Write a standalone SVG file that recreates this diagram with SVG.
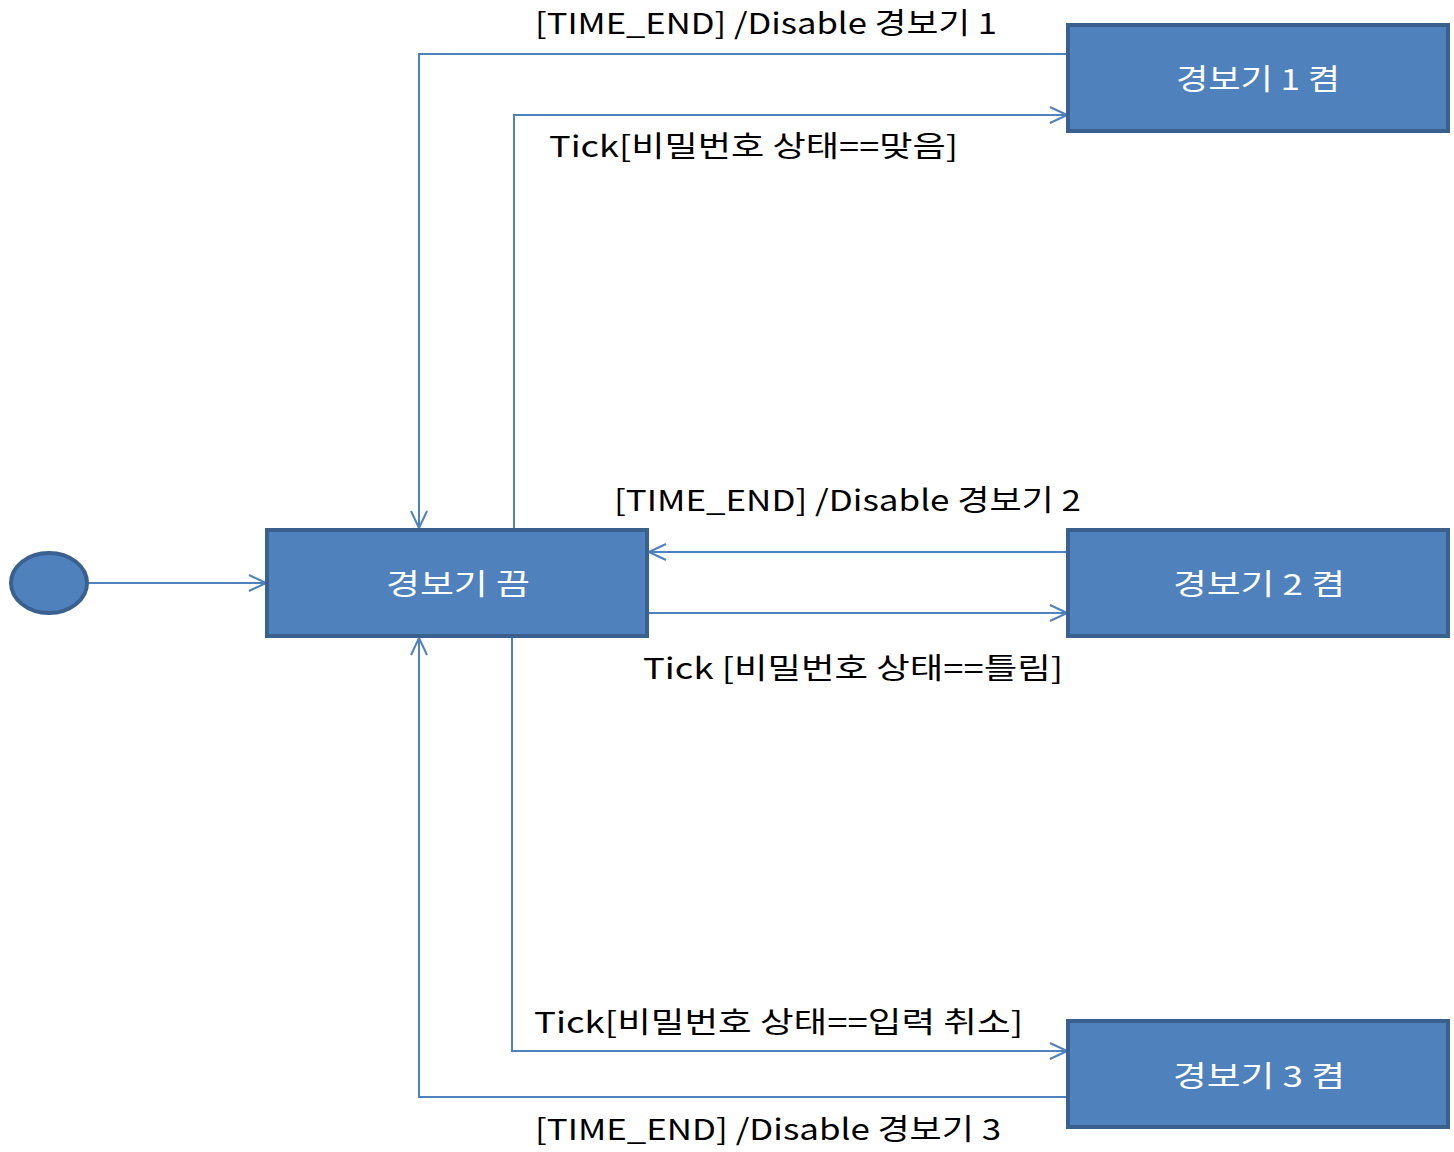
<svg xmlns="http://www.w3.org/2000/svg" width="1454" height="1152" viewBox="0 0 1454 1152">
<style>
.node{fill:#4F81BD;stroke:#3A6090;stroke-width:4}
.nl{fill:#FFFFFF;font-family:"Noto Sans CJK KR","Liberation Sans",sans-serif;font-size:29px;text-anchor:middle}
.el{fill:#000000;font-family:"Noto Sans CJK KR","Liberation Sans",sans-serif;font-size:29px}
.c{fill:none;stroke:#4F81BD;stroke-width:2;marker-end:url(#arr)}
</style>
<defs>
<marker id="arr" viewBox="0 0 20 20" refX="19" refY="10" markerWidth="20" markerHeight="20" markerUnits="userSpaceOnUse" orient="auto">
<path d="M2,2 L19,10 L2,18" fill="none" stroke="#4F81BD" stroke-width="2"/>
</marker>
</defs>
<rect width="1454" height="1152" fill="#FFFFFF"/>
<g id="connectors">
<path class="c" d="M88,583 L266,583"/>
<path class="c" d="M1068,54 L419,54 L419,528"/>
<path class="c" d="M514,528 L514,115 L1067,115"/>
<path class="c" d="M1068,552 L649,552"/>
<path class="c" d="M648,613 L1067,613"/>
<path class="c" d="M512,637 L512,1051 L1067,1051"/>
<path class="c" d="M1068,1097 L419,1097 L419,638"/>
</g>
<g id="labels">
<text class="el" x="535" y="34" textLength="462" lengthAdjust="spacingAndGlyphs">[TIME_END] /Disable 경보기 1</text>
<text class="el" x="549" y="157" textLength="409" lengthAdjust="spacingAndGlyphs">Tick[비밀번호 상태==맞음]</text>
<text class="el" x="614" y="511" textLength="467" lengthAdjust="spacingAndGlyphs">[TIME_END] /Disable 경보기 2</text>
<text class="el" x="643" y="679" textLength="420" lengthAdjust="spacingAndGlyphs">Tick [비밀번호 상태==틀림]</text>
<text class="el" x="534" y="1033" textLength="489" lengthAdjust="spacingAndGlyphs">Tick[비밀번호 상태==입력 취소]</text>
<text class="el" x="535" y="1140" textLength="466" lengthAdjust="spacingAndGlyphs">[TIME_END] /Disable 경보기 3</text>
</g>
<g id="initial">
<ellipse class="node" cx="49" cy="583" rx="38" ry="30"/>
</g>
<g id="off">
<rect class="node" x="267" y="530" width="380" height="106"/>
<text class="nl" x="458" y="595" textLength="144" lengthAdjust="spacingAndGlyphs">경보기 끔</text>
</g>
<g id="on1">
<rect class="node" x="1068" y="25" width="380" height="106"/>
<text class="nl" x="1258" y="90" textLength="164" lengthAdjust="spacingAndGlyphs">경보기 1 켬</text>
</g>
<g id="on2">
<rect class="node" x="1068" y="530" width="380" height="106"/>
<text class="nl" x="1259" y="595" textLength="172" lengthAdjust="spacingAndGlyphs">경보기 2 켬</text>
</g>
<g id="on3">
<rect class="node" x="1068" y="1021" width="380" height="106"/>
<text class="nl" x="1259" y="1087" textLength="172" lengthAdjust="spacingAndGlyphs">경보기 3 켬</text>
</g>
</svg>
